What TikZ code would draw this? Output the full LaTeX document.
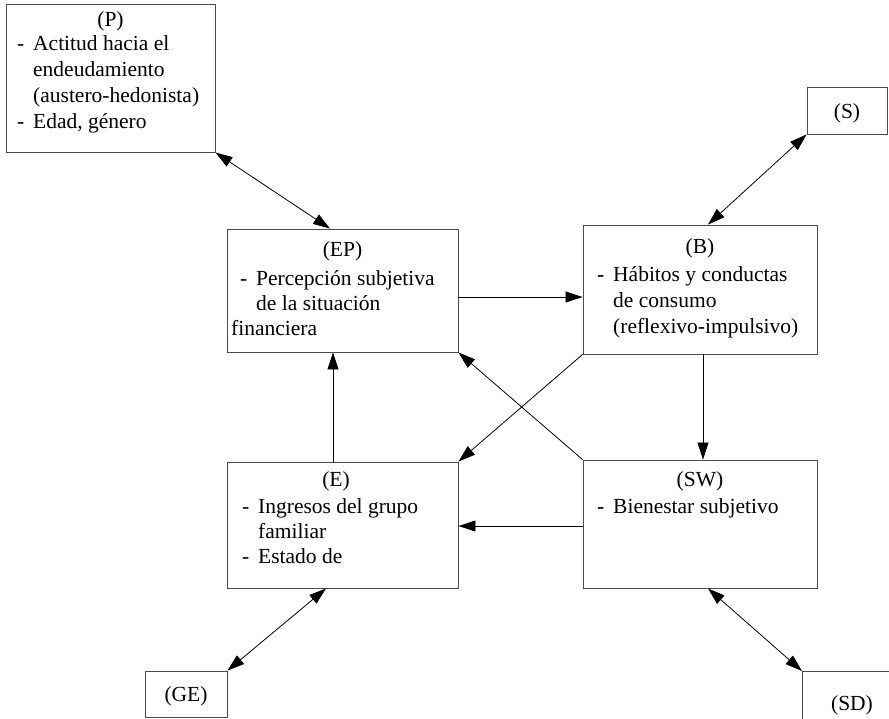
\documentclass[tikz,border=0pt]{standalone}
\usepackage{fontspec}
\setmainfont{Liberation Serif}
\usetikzlibrary{arrows.meta,calc}
\begin{document}
\begin{tikzpicture}[x=1pt,y=-1pt,
  box/.style={draw=black!70, line width=0.9pt, inner sep=0pt},
  boxline/.style={draw=black!70, line width=0.9pt},
  txt/.style={anchor=base west, inner sep=0pt, font=\fontsize{21.5}{25}\selectfont},
  ttl/.style={anchor=base, inner sep=0pt, font=\fontsize{21.5}{25}\selectfont},
  arr/.style={line width=0.8pt, -{Triangle[length=17pt,width=11pt]}},
  darr/.style={line width=0.8pt, {Triangle[length=17pt,width=11pt]}-{Triangle[length=17pt,width=11pt]}}]
\useasboundingbox (0,0) rectangle (889,718);
\newcommand\dd{\makebox[16pt][l]{-}}
% boxes
\node[box, minimum width=209pt, minimum height=148pt] (P) at (110.5,78) {};
\node[box, minimum width=80pt, minimum height=47pt] (S) at (847,110.5) {};
\node[box, minimum width=231pt, minimum height=123pt] (EP) at (342.5,290.5) {};
\node[box, minimum width=234pt, minimum height=129pt] (B) at (700,289.5) {};
\node[box, minimum width=231pt, minimum height=126pt] (E) at (342.5,525) {};
\node[box, minimum width=234pt, minimum height=128pt] (SW) at (700,524) {};
\node[box, minimum width=82pt, minimum height=46pt] (GE) at (186,694) {};
\node[inner sep=0pt, minimum width=100pt, minimum height=60pt, anchor=north west] (SD) at (802,671) {};
\draw[boxline] (SD.south west) -- (SD.north west) -- (SD.north east);
% texts
\node[ttl] (pt) at (110.5,26) {(P)};
\node[txt] (p1) at (17,50) {\dd Actitud hacia el};
\node[txt] (p2) at (33,76) {endeudamiento};
\node[txt] (p3) at (33,102) {(austero-hedonista)};
\node[txt] (p4) at (17,128) {\dd Edad, género};
\node[ttl] (st) at (847,118) {(S)};
\node[ttl] (ept) at (342.5,256) {(EP)};
\node[txt] (ep1) at (240,285) {\dd Percepción subjetiva};
\node[txt] (ep2) at (256,310) {de la situación};
\node[txt] (ep3) at (231,335) {financiera};
\node[ttl] (bt) at (700,253) {(B)};
\node[txt] (b1) at (597,281) {\dd Hábitos y conductas};
\node[txt] (b2) at (613,307) {de consumo};
\node[txt] (b3) at (613,333) {(reflexivo-impulsivo)};
\node[ttl] (et) at (336,486) {(E)};
\node[txt] (e1) at (242,513) {\dd Ingresos del grupo};
\node[txt] (e2) at (258,538) {familiar};
\node[txt] (e3) at (242,563) {\dd Estado de};
\node[ttl] (swt) at (700,486) {(SW)};
\node[txt] (sw1) at (597,513) {\dd Bienestar subjetivo};
\node[ttl] (get) at (186,701) {(GE)};
\node[ttl] (sdt) at (852,710) {(SD)};
% helper levels
\coordinate (h1) at (0,297);
\coordinate (h2) at (0,526);
\coordinate (v1) at (703,0);
\coordinate (v2) at (333,0);
\coordinate (v3) at (326,0);
\coordinate (v4) at (708,0);
\coordinate (v5) at (330,0);
\coordinate (v6) at (708,0);
% connectors
\draw[darr] (P.south east) -- (EP.north -| v5);
\draw[darr] (S.south west) -- (B.north -| v6);
\draw[arr] (EP.east |- h1) -- (B.west |- h1);
\draw[arr] (B.south -| v1) -- (SW.north -| v1);
\draw[arr] (E.north -| v2) -- (EP.south -| v2);
\draw[arr] (SW.west |- h2) -- (E.east |- h2);
\draw[arr] (B.south west) -- (E.north east);
\draw[arr] (SW.north west) -- (EP.south east);
\draw[darr] (E.south -| v3) -- (GE.north east);
\draw[darr] (SW.south -| v4) -- (SD.north west);
\end{tikzpicture}
\end{document}
